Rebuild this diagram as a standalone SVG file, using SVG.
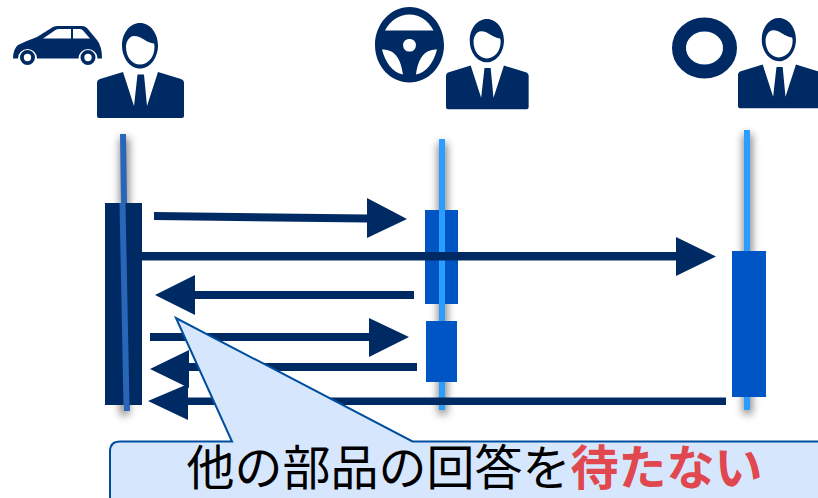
<svg xmlns="http://www.w3.org/2000/svg" width="818" height="498" viewBox="0 0 818 498">
<defs>
<filter id="sh" x="-400%" y="-10%" width="900%" height="120%"><feGaussianBlur stdDeviation="4"/></filter>
<g id="man">
<path fill="#002a63" fill-rule="evenodd" d="M43 0C53 0 61 10 61 22.500C61 35 53 45.500 43 45.500C33 45.500 25 35 25 22.500C25 10 33 0 43 0ZM37 13C32 13 29 19 29 24C29 34 35 41.500 43 41.500C51 41.500 57.500 34 57.500 24C57.500 22.500 57.300 21.500 57 20.500C49 20 45 13 37 13Z"/>
<path fill="#002a63" d="M0 60Q0 57 3 56L26 49L37 83L40.500 51.500H47L50 83L61 49L84 56Q87 57 87 60V93Q87 95 85 95H2Q0 95 0 93Z"/>
</g>
</defs>
<rect width="818" height="498" fill="#fff"/>
<g id="lifeline-shadows" fill="#000" opacity="0.5" filter="url(#sh)">
<rect x="120" y="138" width="9" height="277"/><rect x="438" y="143" width="9" height="271"/><rect x="743" y="134" width="9" height="280"/>
</g>
<g id="connectors" fill="none">
<path d="M123 134L127 411" stroke="#2a66b8" stroke-width="6"/>
<path d="M442 139V410" stroke="#2a9dff" stroke-width="6"/>
<path d="M747 130V410" stroke="#2a9dff" stroke-width="6"/>
</g>
<g id="node-car">
<path fill="#002a63" fill-rule="evenodd" d="M13 58.500Q13 49 18 45Q26 41 37 37L53 27Q55 26 58 26H82Q85 26 87 28L97 40Q102 46 102 58.500H97.500A9.500 9.500 0 0 0 78.500 58.500H37A9.500 9.500 0 0 0 18 58.500ZM43 38.500H71V29H59Q56 29 54 31ZM73 29V38.500H90L83 30.500Q82 29 80 29Z"/>
<circle cx="27.500" cy="57.500" r="5.600" fill="none" stroke="#002a63" stroke-width="3.800"/>
<circle cx="88" cy="57.500" r="5.600" fill="none" stroke="#002a63" stroke-width="3.800"/>
<use href="#man" x="97" y="23"/>
</g>
<g id="node-wheel">
<path fill="#002a63" fill-rule="evenodd" d="M409.500 7C428.500 7 444 24 444 45C444 66 428.500 82.500 409.500 82.500C390.500 82.500 375 66 375 45C375 24 390.500 7 409.500 7ZM385 30.500H433.500C428 20 419 14.500 409.500 14.500C400 14.500 390.500 20 385 30.500ZM382 49.500C391 49.500 400 53 403 74.500C393 73 385 62 382 49.500ZM437 49.500C428 49.500 419 53 416 74.500C426 73 434 62 437 49.500ZM409.500 39A5.700 6.300 0 1 0 409.500 51.500A5.700 6.300 0 1 0 409.500 39Z"/>
<use href="#man" transform="translate(446 19) scale(0.95)"/>
</g>
<g id="node-tire">
<ellipse cx="704.500" cy="48" rx="25.500" ry="23.500" fill="none" stroke="#002a63" stroke-width="14"/>
<use href="#man" transform="translate(738 18) scale(0.95)"/>
</g>
<g id="node-bars">
<rect x="105" y="203" width="37" height="202" fill="#002a63"/>
<path d="M122.500 203L126.500 405" stroke="#2a66b8" stroke-width="6"/>
<rect x="425" y="210" width="33" height="94" fill="#0055c4"/>
<rect x="426" y="321" width="31" height="61" fill="#0055c4"/>
<rect x="732" y="251" width="34" height="146" fill="#0055c4"/>
<path d="M442 210V304" stroke="#2a9dff" stroke-width="6"/>
</g>
<g id="arrows" fill="#002a63" stroke="none">
<path d="M154 212L367 214.500V198L407 219L367 238V222.500L154 220Z"/>
<path d="M142 252H676V237L716 256.500L676 276V260.500H142Z"/>
<path d="M414 291V299H195V315L155 295L195 275V291Z"/>
<path d="M150 333H369V318L409 337L369 357V341H150Z"/>
<path d="M417 363V371H189V388L150 369L189 350V363Z"/>
<path d="M726 397.500V405H188V420L148 401L188 384V397.500Z"/>
</g>
<g id="node-callout">
<path d="M176 318L232 441.500H120Q110 441.500 110 451.500V500H820V441.500H412.500Z" fill="#d6e7fd" stroke="#004f9e" stroke-width="2"/>
<text x="474.500" y="485" text-anchor="middle" font-family="'Noto Sans CJK JP','Noto Sans',sans-serif" font-size="48"><tspan fill="#000">他の部品の回答を</tspan><tspan fill="#e0474f" font-weight="700">待たない</tspan></text>
</g>
</svg>
